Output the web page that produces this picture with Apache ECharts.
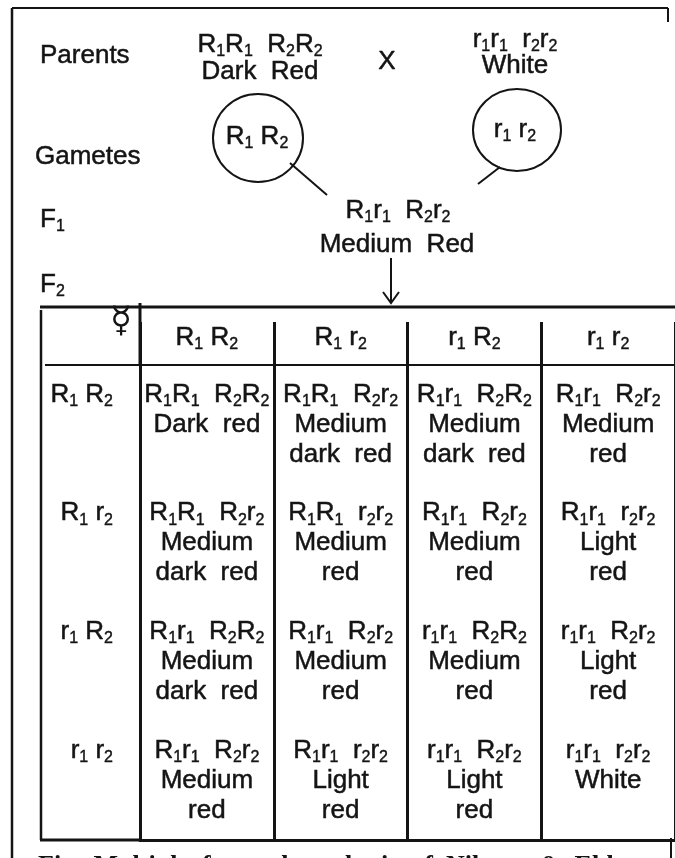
<!DOCTYPE html>
<html><head><meta charset="utf-8">
<script src="https://cdn.jsdelivr.net/npm/echarts@6/dist/echarts.min.js"></script>
<style>html,body{margin:0;padding:0;background:#fff}#c{width:675px;height:858px}</style>
</head><body><div id="c"></div>
<script>
// ---- data ----
const generationLabels = ['Parents', 'Gametes', 'F1', 'F2'];
const parentGenotypes = ['R1R1 R2R2', 'r1r1 r2r2'];
const parentPhenotypes = ['Dark Red', 'White'];
const parentGametes = ['R1 R2', 'r1 r2'];
const f1Genotype = 'R1r1 R2r2';
const f1Phenotype = 'Medium Red';
const crossSymbol = 'X';
const cornerSymbol = '\u263F';
const femaleGametes = ['R1 R2', 'R1 r2', 'r1 R2', 'r1 r2'];
const maleGametes = ['R1 R2', 'R1 r2', 'r1 R2', 'r1 r2'];
const genotypes = [
  ['R1R1 R2R2', 'R1R1 R2r2', 'R1r1 R2R2', 'R1r1 R2r2'],
  ['R1R1 R2r2', 'R1R1 r2r2', 'R1r1 R2r2', 'R1r1 r2r2'],
  ['R1r1 R2R2', 'R1r1 R2r2', 'r1r1 R2R2', 'r1r1 R2r2'],
  ['R1r1 R2r2', 'R1r1 r2r2', 'r1r1 R2r2', 'r1r1 r2r2']
];
const phenotypes = [
  ['Dark red', 'Medium\ndark red', 'Medium\ndark red', 'Medium\nred'],
  ['Medium\ndark red', 'Medium\nred', 'Medium\nred', 'Light\nred'],
  ['Medium\ndark red', 'Medium\nred', 'Medium\nred', 'Light\nred'],
  ['Medium\nred', 'Light\nred', 'Light\nred', 'White']
];
const caption = 'Fig. Multiple factor hypothesis of Nilsson & Ehle';

// ---- styles ----
const INK = '#141414';
const FONT = 'Liberation Sans, Arial, sans-serif';
// rich styles for chart labels (ECharts names)
const rich = {
  m: { fontSize: 26, fontFamily: FONT, color: INK, lineHeight: 30, textBorderColor: INK, textBorderWidth: 0.5 },
  s: { fontSize: 16, fontFamily: FONT, color: INK, lineHeight: 18, verticalAlign: 'bottom', textBorderColor: INK, textBorderWidth: 0.4 }
};
// rich styles for graphic text (zrender names)
const richG = {
  m: { fontSize: 26, fontFamily: FONT, fill: INK, lineHeight: 30, stroke: INK, lineWidth: 0.5 },
  s: { fontSize: 16, fontFamily: FONT, fill: INK, lineHeight: 18, verticalAlign: 'bottom', stroke: INK, lineWidth: 0.4 }
};
function geno(str) {
  let out = '';
  for (const ch of str) {
    if (/\d/.test(ch)) out += '{s|' + ch + '}';
    else if (ch === ' ') out += '{m|  }';
    else out += '{m|' + ch + '}';
  }
  return out;
}
function words(str) {
  return str.split('\n').map(l => '{m|' + l.replace(/ /g, '  ') + '}');
}
function gam(str) { return geno(str).replace('{m|  }', '{m| }'); }

const cells = [];
for (let r = 0; r < maleGametes.length; r++) {
  for (let c = 0; c < femaleGametes.length; c++) {
    cells.push([c, r, genotypes[r][c], phenotypes[r][c]]);
  }
}

function txt(x, y, text, align) {
  return {
    type: 'text', x: x, y: y, silent: true,
    style: { text: text, rich: richG, align: align || 'center', verticalAlign: 'middle',
             fontSize: 26, fontFamily: FONT, fill: INK }
  };
}
function line(pts, w) {
  return { type: 'polyline', silent: true, shape: { points: pts },
           style: { stroke: INK, lineWidth: w || 2, fill: null } };
}

const chart = echarts.init(document.getElementById('c'), null, { renderer: 'canvas' });
chart.setOption({
  animation: false,
  backgroundColor: '#fff',
  grid: { left: 140, top: 365, width: 560, height: 475, containLabel: false },
  xAxis: [{
    type: 'category', data: femaleGametes, position: 'top',
    axisLine: { show: true, lineStyle: { color: INK, width: 2 } },
    axisTick: { show: true, length: 43, lineStyle: { color: INK, width: 3 } },
    axisLabel: { margin: 12, formatter: v => gam(v), rich: rich, interval: 0, color: INK },
    splitLine: { show: true, lineStyle: { color: INK, width: 3 } }
  }, {
    type: 'category', data: femaleGametes, position: 'bottom',
    axisLine: { show: true, lineStyle: { color: INK, width: 3 } },
    axisTick: { show: false }, axisLabel: { show: false }, splitLine: { show: false }
  }],
  yAxis: {
    type: 'category', data: maleGametes, inverse: true,
    axisLine: { show: true, lineStyle: { color: INK, width: 3 } },
    axisTick: { show: false },
    axisLabel: { margin: 27, formatter: v => gam(v), rich: rich, padding: [0, 0, 60, 0], interval: 0, color: INK },
    splitLine: { show: false }
  },
  series: [{
    type: 'scatter', data: cells, symbolSize: 1, silent: true,
    itemStyle: { color: 'rgba(0,0,0,0)' },
    encode: { x: 0, y: 1 },
    label: {
      show: true, position: 'inside', align: 'center', verticalAlign: 'middle',
      color: INK, textBorderWidth: 0, opacity: 1,
      rich: rich,
      formatter: p => {
        const lines = [geno(p.data[2])].concat(words(p.data[3]));
        while (lines.length < 3) lines.push('{m| }');
        return lines.join('\n');
      }
    }
  }],
  graphic: [
    // frame
    line([[12, 8], [668, 8]], 2),
    line([[12, 8], [12, 858]], 2.5),
    line([[668, 8], [668, 22]], 2),
    line([[671, 838], [671, 858]], 2),
    // table outline
    line([[40, 307], [675, 307]], 3),
    line([[41, 310], [41, 840]], 2.5),
    line([[140, 303], [140, 365]], 3),
    line([[45, 365], [140, 365]], 2),
    line([[40, 840], [140, 840]], 3),
    { type: 'text', x: 121, y: 323, silent: true,
      style: { text: cornerSymbol, align: 'center', verticalAlign: 'middle', fontSize: 36, fontFamily: 'DejaVu Sans', fill: INK } },
    // labels on left
    txt(40, 56, '{m|' + generationLabels[0] + '}', 'left'),
    txt(35, 157, '{m|' + generationLabels[1] + '}', 'left'),
    txt(40, 220, geno(generationLabels[2]), 'left'),
    txt(40, 285, geno(generationLabels[3]), 'left'),
    // parents
    txt(260, 45, geno(parentGenotypes[0])),
    txt(260, 72, words(parentPhenotypes[0])[0]),
    txt(387, 62, '{m|' + crossSymbol + '}'),
    txt(515, 40, geno(parentGenotypes[1])),
    txt(515, 66, words(parentPhenotypes[1])[0]),
    // gametes
    { type: 'ellipse', silent: true, shape: { cx: 258, cy: 138, rx: 45, ry: 44 }, style: { stroke: INK, lineWidth: 2, fill: null } },
    { type: 'ellipse', silent: true, shape: { cx: 517, cy: 130, rx: 44, ry: 41 }, style: { stroke: INK, lineWidth: 2, fill: null } },
    txt(257, 137, gam(parentGametes[0])),
    txt(515, 130, gam(parentGametes[1])),
    line([[290, 163], [327, 195]], 2),
    line([[500, 167], [478, 184]], 2),
    // F1
    txt(398, 211, geno(f1Genotype)),
    txt(397, 245, words(f1Phenotype)[0]),
    line([[391, 258], [391, 303]], 2),
    line([[383, 292], [391, 303], [399, 292]], 2),
    // caption
    { type: 'text', x: 38, y: 853, silent: true,
      style: { text: caption.replace(/ /g, '  '), fontSize: 26, fontWeight: 'bold', fontFamily: 'Liberation Serif, Times New Roman, serif', fill: INK, align: 'left', verticalAlign: 'top' } }
  ]
});
</script></body></html>
